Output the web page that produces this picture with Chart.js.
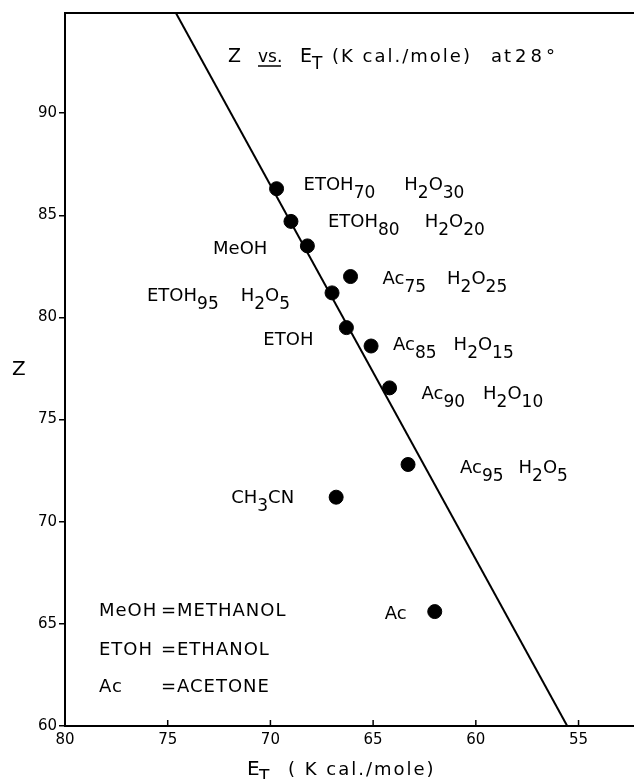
<!DOCTYPE html>
<html lang="en">
<head>
    <meta charset="UTF-8">
    <title>Z vs. ET at 28°</title>
    <script src="https://cdn.jsdelivr.net/npm/chart.js"></script>
    <style>
        body { margin: 0; background: #fff; }
        .chart-box { position: relative; width: 634px; height: 779px; }
    </style>
</head>
<body>
    <div class="chart-box">
        <canvas id="zChart"></canvas>
    </div>

    <script>
        // Solvent points: E_T (kcal/mole) and Z
        const solventLabels = [
            'ETOH_{70}  H_{2}O_{30}',
            'ETOH_{80}  H_{2}O_{20}',
            'MeOH',
            'Ac_{75}  H_{2}O_{25}',
            'ETOH_{95}  H_{2}O_{5}',
            'ETOH',
            'Ac_{85}  H_{2}O_{15}',
            'Ac_{90}  H_{2}O_{10}',
            'Ac_{95}  H_{2}O_{5}',
            'CH_{3}CN',
            'Ac'
        ];
        const etValues = [69.7, 69.0, 68.2, 66.1, 67.0, 66.3, 65.1, 64.2, 63.3, 66.8, 62.0];
        const zValues  = [86.3, 84.7, 83.5, 82.0, 81.2, 79.5, 78.6, 76.55, 72.8, 71.2, 65.6];

        // Straight line drawn through the data
        const fitEt = [74.6, 55.55];
        const fitZ  = [94.9, 60];

        const xTicks = [80, 75, 70, 65, 60, 55];
        const yTicks = [60, 65, 70, 75, 80, 85, 90];

        // label placement relative to its point: [dx, dy, align, gap between words]
        const labelPlace = [
            [27, -6, 'left', 29],
            [37, -1.5, 'left', 25],
            [-40, 1.5, 'right', 0],
            [32, 0, 'left', 21],
            [-42, 1, 'right', 22],
            [-33, 10, 'right', 0],
            [22, -3, 'left', 17],
            [32, 4, 'left', 18],
            [52, 2, 'left', 15],
            [-42, -1.5, 'right', 0],
            [-28, 0, 'right', 0]
        ];

        const FONT = '"DejaVu Sans", sans-serif';

        function parseRich(str) {
            // "ETOH_{70}" -> [['ETOH', false], ['70', true]]
            const parts = [];
            const re = /_\{([^}]*)\}|([^_]+)/g;
            let m;
            while ((m = re.exec(str)) !== null) {
                if (m[1] !== undefined) parts.push([m[1], true]);
                else parts.push([m[2], false]);
            }
            return parts;
        }

        function richWidth(ctx, parts, size, subSize) {
            let w = 0;
            parts.forEach(p => {
                ctx.font = (p[1] ? subSize : size) + 'px ' + FONT;
                w += ctx.measureText(p[0]).width;
            });
            return w;
        }

        function drawParts(ctx, parts, x, base, size, subSize, subShift) {
            parts.forEach(p => {
                ctx.font = (p[1] ? subSize : size) + 'px ' + FONT;
                ctx.fillText(p[0], x, p[1] ? base + subShift : base);
                x += ctx.measureText(p[0]).width;
            });
            return x;
        }

        function drawLabel(ctx, str, x, cy, align, gap) {
            const size = 18, subSize = 17, subShift = 8;
            const words = str.split('  ').map(parseRich);
            let total = 0;
            words.forEach((w, i) => { total += richWidth(ctx, w, size, subSize) + (i ? gap : 0); });
            if (align === 'right') x -= total;
            const base = cy + 7;
            words.forEach((w, i) => {
                if (i) x += gap;
                x = drawParts(ctx, w, x, base, size, subSize, subShift);
            });
        }

        const annotations = {
            id: 'annotations',
            afterDraw(chart) {
                const ctx = chart.ctx;
                const area = chart.chartArea;
                const xs = chart.scales.x, ys = chart.scales.y;
                ctx.save();
                ctx.fillStyle = '#000';
                ctx.strokeStyle = '#000';
                ctx.textAlign = 'left';
                ctx.textBaseline = 'alphabetic';

                // top frame line
                ctx.lineWidth = 2;
                ctx.beginPath();
                ctx.moveTo(area.left, area.top);
                ctx.lineTo(chart.width, area.top);
                ctx.stroke();

                // inward tick marks on the bottom axis
                ctx.lineWidth = 1.5;
                xTicks.forEach(v => {
                    const px = xs.getPixelForValue(v);
                    ctx.beginPath();
                    ctx.moveTo(px, area.bottom);
                    ctx.lineTo(px, area.bottom - 6);
                    ctx.stroke();
                });

                // point labels
                solventLabels.forEach((lab, i) => {
                    const px = xs.getPixelForValue(etValues[i]);
                    const py = ys.getPixelForValue(zValues[i]);
                    const pl = labelPlace[i];
                    drawLabel(ctx, lab, px + pl[0], py + pl[1], pl[2], pl[3]);
                });

                // title inside plot
                ctx.font = '19px ' + FONT;
                ctx.fillText('Z', 228, 62);
                ctx.font = '17px ' + FONT;
                ctx.fillText('vs.', 258, 62);
                ctx.lineWidth = 1.5;
                ctx.beginPath();
                ctx.moveTo(258, 66);
                ctx.lineTo(281, 66);
                ctx.stroke();
                ctx.font = '19px ' + FONT;
                ctx.fillText('E', 300, 62);
                ctx.font = '17px ' + FONT;
                ctx.fillText('T', 312, 69);
                ctx.letterSpacing = '2px';
                ctx.font = '18px ' + FONT;
                ctx.fillText('(K cal./mole)', 332, 62);
                ctx.fillText('at', 491, 62);
                ctx.letterSpacing = '4px';
                ctx.fillText('28°', 515, 62);

                // abbreviations key
                ctx.letterSpacing = '1px';
                ctx.font = '18px ' + FONT;
                const keyRows = [['MeOH', 'METHANOL', 609], ['ETOH', 'ETHANOL', 648], ['Ac', 'ACETONE', 685]];
                keyRows.forEach(r => {
                    ctx.fillText(r[0], 99, r[2] + 7);
                    ctx.fillText('=', 161, r[2] + 7);
                    ctx.fillText(r[1], 177, r[2] + 7);
                });

                // axis titles
                ctx.letterSpacing = '0px';
                ctx.font = '20px ' + FONT;
                ctx.fillText('Z', 12, 375);
                ctx.fillText('E', 247, 775);
                ctx.font = '17px ' + FONT;
                ctx.fillText('T', 259, 782);
                ctx.letterSpacing = '2px';
                ctx.font = '18px ' + FONT;
                ctx.fillText('( K cal./mole)', 288, 775);
                ctx.restore();
            }
        };

        new Chart(document.getElementById('zChart'), {
            type: 'scatter',
            data: {
                datasets: [
                    {
                        label: 'Solvents',
                        data: etValues.map((x, i) => ({ x: x, y: zValues[i] })),
                        pointRadius: 7,
                        pointBackgroundColor: '#000',
                        pointBorderColor: '#000',
                        showLine: false
                    },
                    {
                        type: 'line',
                        label: 'Fit',
                        data: fitEt.map((x, i) => ({ x: x, y: fitZ[i] })),
                        borderColor: '#000',
                        borderWidth: 2,
                        pointRadius: 0,
                        fill: false
                    }
                ]
            },
            options: {
                responsive: true,
                maintainAspectRatio: false,
                animation: false,
                layout: { autoPadding: false, padding: { top: 13, right: 0, bottom: 0, left: 0 } },
                plugins: {
                    legend: { display: false },
                    tooltip: { enabled: false }
                },
                scales: {
                    x: {
                        type: 'linear',
                        reverse: true,
                        min: 52.3,
                        max: 80,
                        afterBuildTicks: s => { s.ticks = xTicks.map(v => ({ value: v })); },
                        afterFit: s => { s.height = 53; s.paddingLeft = 0; s.paddingRight = 0; },
                        grid: { drawOnChartArea: false, drawTicks: false },
                        border: { color: '#000', width: 2 },
                        ticks: { color: '#000', padding: 5, font: { size: 15, family: 'DejaVu Sans' } }
                    },
                    y: {
                        min: 60,
                        max: 94.9,
                        afterBuildTicks: s => { s.ticks = yTicks.map(v => ({ value: v })); },
                        afterFit: s => { s.width = 65; s.paddingTop = 0; s.paddingBottom = 0; },
                        grid: { drawOnChartArea: false, tickLength: 6, color: '#000', lineWidth: 1.5 },
                        border: { color: '#000', width: 2 },
                        ticks: { color: '#000', padding: 2, font: { size: 15, family: 'DejaVu Sans' } }
                    }
                }
            },
            plugins: [annotations]
        });
    </script>
</body>
</html>
